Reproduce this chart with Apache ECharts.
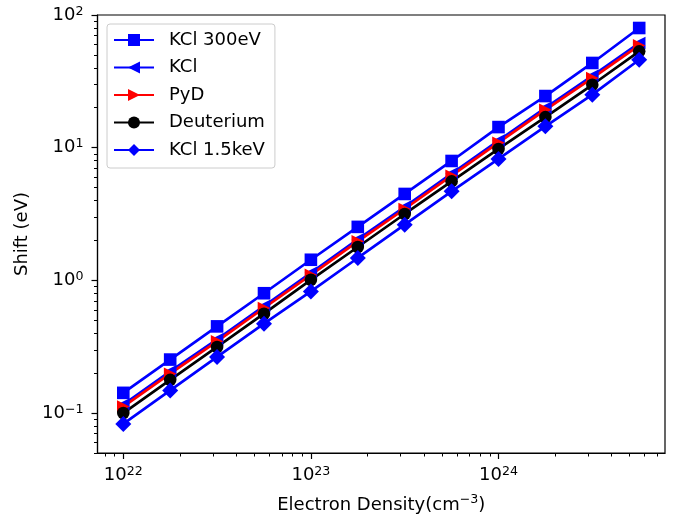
<!DOCTYPE html>
<html lang="en">
<head>
    <meta charset="utf-8">
    <title>Shift vs Electron Density</title>
    <style>
        html, body { margin: 0; padding: 0; background: #fff; }
    </style>
</head>
<body>
    <div id="main" style="width:673px;height:519px;"></div>
    <script src="https://cdn.jsdelivr.net/npm/echarts@6/dist/echarts.min.js"></script>
    <script type="text/javascript">

        // electron density, 10^22 ... 10^24.75 in steps of 10^0.25
        var density = [1e22, 1.778e22, 3.162e22, 5.623e22, 1e23, 1.778e23, 3.162e23, 5.623e23,
            1e24, 1.778e24, 3.162e24, 5.623e24];

        var kcl300 = [0.142, 0.253, 0.45, 0.80, 1.43, 2.53, 4.48, 7.94, 14.3, 24.5, 43.5, 79.8];
        var kcl = [0.116, 0.206, 0.36, 0.64, 1.14, 2.04, 3.58, 6.38, 11.3, 20.0, 34.8, 61.5];
        var pyd = [0.112, 0.198, 0.347, 0.619, 1.10, 1.97, 3.45, 6.15, 10.9, 19.3, 33.5, 59.0];
        var deuterium = [0.100, 0.178, 0.315, 0.561, 1.01, 1.785, 3.165, 5.57, 9.78, 17.0, 29.8, 53.2];
        var kcl15 = [0.0828, 0.148, 0.265, 0.472, 0.826, 1.475, 2.63, 4.69, 8.22, 14.5, 25.1, 46.0];

        var xMajor = [1e22, 1e23, 1e24];
        var yMajor = [0.1, 1, 10, 100];

        var xMin = Math.pow(10, 21.8625), xMax = Math.pow(10, 24.8875);
        var yMin = 0.05, yMax = 100;

        // minor ticks at 2..9 x 10^n inside the range
        function minorTicks(lo, hi, e0, e1) {
            var res = [];
            for (var e = e0; e <= e1; e++) {
                for (var m = 2; m <= 9; m++) {
                    var v = m * Math.pow(10, e);
                    if (v >= lo && v <= hi) res.push(v);
                }
            }
            return res;
        }
        var xMinor = minorTicks(xMin, xMax, 21, 24);
        var yMinor = minorTicks(yMin, yMax, -2, 1);

        function pairs(ys) {
            return density.map(function (x, i) { return [x, ys[i]]; });
        }

        var font = 'DejaVu Sans';

        function powLabel(v) {
            var e = Math.round(Math.log10(v));
            var s = e < 0 ? '\u2212' + (-e) : '' + e;
            return '{b|10}{s|' + s + '}';
        }
        var powRich = {
            b: { fontFamily: font, fontSize: 18, color: '#000', verticalAlign: 'bottom', lineHeight: 18 },
            s: { fontFamily: font, fontSize: 12.6, color: '#000', verticalAlign: 'bottom', lineHeight: 13, padding: [0, 0, 6, 0] }
        };

        var myChart = echarts.init(document.getElementById('main'));

        function mkSeries(name, ys, color, symbol, size, rotate) {
            return {
                name: name,
                type: 'line',
                data: pairs(ys),
                symbol: symbol,
                symbolSize: size,
                symbolRotate: rotate || 0,
                showAllSymbol: true,
                lineStyle: { color: color, width: 2.7 },
                itemStyle: { color: color, borderWidth: 0 },
                emphasis: { disabled: true },
                animation: false
            };
        }

        var option = {
            animation: false,
            grid: {
                left: 97.5, right: 8, top: 15, bottom: 65,
                show: true, borderColor: '#000', borderWidth: 1.2, backgroundColor: '#fff'
            },
            legend: {
                orient: 'vertical',
                left: 107, top: 24,
                padding: [7, 10, 9, 6],
                itemWidth: 40, itemHeight: 15,
                itemGap: 9.5,
                borderColor: '#ccc', borderWidth: 1, borderRadius: 3,
                backgroundColor: 'rgba(255,255,255,0.8)',
                textStyle: { fontFamily: font, fontSize: 18, color: '#000', padding: [0, 0, 0, 10] },
                data: ['KCl 300eV', 'KCl', 'PyD', 'Deuterium', 'KCl 1.5keV']
            },
            xAxis: [{
                type: 'log', min: xMin, max: xMax,
                name: 'Electron Density(cm{s|\u22123})',
                nameLocation: 'middle', nameGap: 43,
                nameTextStyle: {
                    fontFamily: font, fontSize: 18, color: '#000',
                    rich: {
                        s: { fontFamily: font, fontSize: 12.6, color: '#000', verticalAlign: 'bottom', lineHeight: 13, padding: [0, 0, 8, 0] }
                    }
                },
                axisLine: { show: true, lineStyle: { color: '#000', width: 1.2 } },
                axisTick: { show: true, inside: false, length: 6, lineStyle: { color: '#000', width: 1.2 }, customValues: xMajor },
                axisLabel: { margin: 13, fontFamily: font, fontSize: 18, formatter: powLabel, rich: powRich, customValues: xMajor },
                splitLine: { show: false }
            }, {
                type: 'log', min: xMin, max: xMax, position: 'bottom', gridIndex: 0,
                axisLine: { show: false },
                axisTick: { show: true, length: 3.5, lineStyle: { color: '#000', width: 1 }, customValues: xMinor },
                axisLabel: { show: false },
                splitLine: { show: false }
            }],
            yAxis: [{
                type: 'log', min: yMin, max: yMax,
                name: 'Shift (eV)',
                nameLocation: 'middle', nameGap: 55,
                nameTextStyle: { fontFamily: font, fontSize: 18, color: '#000' },
                axisLine: { show: true, lineStyle: { color: '#000', width: 1.2 } },
                axisTick: { show: true, length: 6, lineStyle: { color: '#000', width: 1.2 }, customValues: yMajor },
                axisLabel: { margin: 14, fontFamily: font, fontSize: 18, formatter: powLabel, rich: powRich, customValues: yMajor },
                splitLine: { show: false }
            }, {
                type: 'log', min: yMin, max: yMax, position: 'left', gridIndex: 0,
                axisLine: { show: false },
                axisTick: { show: true, length: 3.5, lineStyle: { color: '#000', width: 1 }, customValues: yMinor },
                axisLabel: { show: false },
                splitLine: { show: false }
            }],
            series: [
                mkSeries('KCl 300eV', kcl300, '#0000ff', 'rect', 12.6),
                mkSeries('KCl', kcl, '#0000ff', 'triangle', 12.6, 90),
                mkSeries('PyD', pyd, '#ff0000', 'triangle', 12.6, -90),
                mkSeries('Deuterium', deuterium, '#000000', 'circle', 12.6),
                mkSeries('KCl 1.5keV', kcl15, '#0000ff', 'diamond', 16)
            ]
        };
        myChart.setOption(option);
    </script>
</body>
</html>
